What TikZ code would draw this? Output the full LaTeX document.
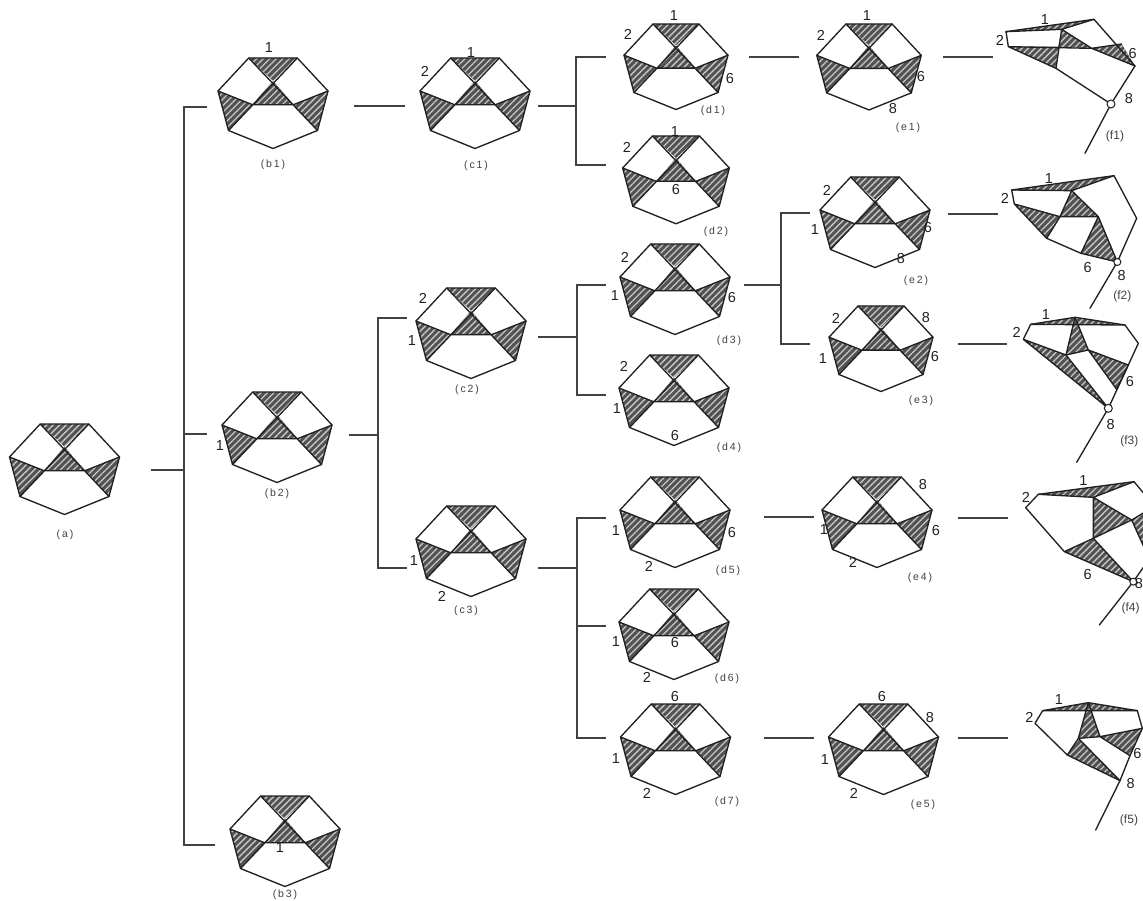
\documentclass[tikz,border=0pt]{standalone}
\usepackage{fontspec}
\setmainfont{Liberation Sans}
\newfontfamily\capfont[LetterSpace=18]{Liberation Sans}
\usetikzlibrary{patterns.meta}
\definecolor{ink}{gray}{0.13}
\tikzset{
  edgeline/.style={draw=ink,line width=1.35pt,line join=round,line cap=round},
  conn/.style={draw=ink!85,line width=1.3pt},
  hatched/.style={fill=black!68,postaction={pattern={Lines[angle=45,distance=4.6pt,line width=1.3pt]},pattern color=black!22}},
  num/.style={font=\fontsize{14.5}{15}\selectfont,text=ink,inner sep=0pt},
  captext/.style={font=\capfont\fontsize{10.5}{11}\selectfont,text=black!75,inner sep=0pt},
  captextf/.style={font=\fontsize{12}{13}\selectfont,text=black!75,inner sep=0pt},
  pinhole/.style={draw=ink,line width=1pt,fill=white},
  hepta/.pic={
    \coordinate (-T1) at (-24.3,0);
    \coordinate (-T2) at (24.3,0);
    \coordinate (-R) at (55,33);
    \coordinate (-LR) at (44.5,72.5);
    \coordinate (-B) at (0,90.5);
    \coordinate (-LL) at (-44.5,72.5);
    \coordinate (-L) at (-55,33);
    \coordinate (-C) at (0,22.7);
    \coordinate (-IL) at (-20.5,46.7);
    \coordinate (-IR) at (20.5,46.7);
    \path[hatched] (-T1) -- (-T2) -- (-C) -- cycle;
    \path[hatched] (-C) -- (-IL) -- (-IR) -- cycle;
    \path[hatched] (-L) -- (-IL) -- (-LL) -- cycle;
    \path[hatched] (-R) -- (-IR) -- (-LR) -- cycle;
    \draw[edgeline] (-T1) -- (-T2) -- (-R) -- (-LR) -- (-B) -- (-LL) -- (-L) -- cycle;
    \draw[edgeline] (-T1) -- (-LR) (-T2) -- (-LL) (-L) -- (-IL) -- (-IR) -- (-R);
  }
}
\newcommand{\lab}[4]{\node[num] (#1) at (#2,#3) {#4};}
\newcommand{\capt}[4]{\node[captext] (#1) at (#2,#3) {#4};}
\begin{document}
\begin{tikzpicture}[x=1pt,y=-1pt]
\useasboundingbox (0,0) rectangle (1143,901);
\clip (0,0) rectangle (1143,901);
% heptagons
\pic (a) at (64.5,424) {hepta};
\pic (b1) at (273,58) {hepta};
\pic (b2) at (277,392) {hepta};
\pic (b3) at (285,796) {hepta};
\pic (c1) at (475,58) {hepta};
\pic (c2) at (471,288) {hepta};
\pic (c3) at (471,506) {hepta};
\pic[scale=.945] (d1) at (676,24) {hepta};
\pic[scale=.97] (d2) at (676,136) {hepta};
\pic (d3) at (675,244) {hepta};
\pic (d4) at (674,355) {hepta};
\pic (d5) at (675,477) {hepta};
\pic (d6) at (674,589) {hepta};
\pic (d7) at (675.5,704) {hepta};
\pic[scale=.95] (e1) at (869,24) {hepta};
\pic (e2) at (875,177) {hepta};
\pic[scale=.945] (e3) at (881,306) {hepta};
\pic (e4) at (877,477) {hepta};
\pic (e5) at (883.5,704) {hepta};
% f1
\begin{scope}[shift={(980,0)},x=.3333pt,y=-.3333pt]
\coordinate (f1A) at (78,95); \coordinate (f1B) at (342,58); \coordinate (f1C) at (465,198);
\coordinate (f1D) at (393,312); \coordinate (f1L) at (85,140); \coordinate (f1P) at (245,88);
\coordinate (f1G) at (228,205); \coordinate (f1Q) at (335,145); \coordinate (f1R) at (425,132);
\coordinate (f1X) at (235,140); \coordinate (f1tail) at (315,460);
\path[hatched] (f1A) -- (f1B) -- (f1P) -- cycle;
\path[hatched] (f1P) -- (f1Q) -- (f1X) -- cycle;
\path[hatched] (f1L) -- (f1X) -- (f1G) -- cycle;
\path[hatched] (f1Q) -- (f1R) -- (f1C) -- cycle;
\draw[edgeline] (f1L) -- (f1A) -- (f1B) -- (f1C) -- (f1D) -- (f1G) -- (f1L) -- (f1Q);
\draw[edgeline] (f1A) -- (f1P) -- (f1B) (f1P) -- (f1G) (f1P) -- (f1Q) -- (f1C) (f1Q) -- (f1R) (f1D) -- (f1tail);
\node[pinhole,circle,inner sep=0pt,minimum size=8pt] (f1pin) at (f1D) {};
\lab{f1n1}{195}{60}{1} \lab{f1n2}{60}{120}{2} \lab{f1n6}{458}{160}{6} \lab{f1n8}{447}{297}{8}
\node[captextf] (f1cap) at (405,410) {(f1)};
\end{scope}
% f2
\begin{scope}[shift={(980,160)},x=.3333pt,y=-.3333pt]
\coordinate (f2A) at (95,90); \coordinate (f2B) at (402,47); \coordinate (f2C) at (470,175);
\coordinate (f2D) at (412,306); \coordinate (f2L) at (103,132); \coordinate (f2P) at (275,92);
\coordinate (f2Q) at (240,170); \coordinate (f2R) at (355,170); \coordinate (f2S) at (200,235);
\coordinate (f2T) at (303,280); \coordinate (f2tail) at (330,445);
\path[hatched] (f2A) -- (f2B) -- (f2P) -- cycle;
\path[hatched] (f2P) -- (f2Q) -- (f2R) -- cycle;
\path[hatched] (f2L) -- (f2Q) -- (f2S) -- cycle;
\path[hatched] (f2R) -- (f2T) -- (f2D) -- cycle;
\draw[edgeline] (f2L) -- (f2A) -- (f2B) -- (f2C) -- (f2D) -- (f2T) -- (f2S) -- (f2L) -- (f2Q) -- (f2S);
\draw[edgeline] (f2A) -- (f2P) -- (f2B) (f2P) -- (f2Q) -- (f2R) -- (f2P) (f2R) -- (f2T) (f2R) -- (f2D) (f2D) -- (f2tail);
\node[pinhole,circle,inner sep=0pt,minimum size=7pt] (f2pin) at (f2D) {};
\lab{f2n1}{207}{55}{1} \lab{f2n2}{75}{115}{2} \lab{f2n6}{323}{323}{6} \lab{f2n8}{425}{347}{8}
\node[captextf] (f2cap) at (427,410) {(f2)};
\end{scope}
% f3
\begin{scope}[shift={(980,300)},x=.3333pt,y=-.3333pt]
\coordinate (f3A) at (152,73); \coordinate (f3B) at (285,52); \coordinate (f3E) at (435,75);
\coordinate (f3C) at (475,130); \coordinate (f3D) at (385,325); \coordinate (f3L) at (130,118);
\coordinate (f3P) at (258,165); \coordinate (f3Q) at (325,150); \coordinate (f3R) at (445,195);
\coordinate (f3S) at (410,268); \coordinate (f3tail) at (290,487);
\path[hatched] (f3A) -- (f3B) -- (f3E) -- cycle;
\path[hatched] (f3B) -- (f3P) -- (f3Q) -- cycle;
\path[hatched] (f3L) -- (f3P) -- (f3D) -- cycle;
\path[hatched] (f3Q) -- (f3R) -- (f3S) -- cycle;
\draw[edgeline] (f3L) -- (f3A) -- (f3B) -- (f3E) -- (f3C) -- (f3D) -- (f3L) -- (f3P) -- (f3D);
\draw[edgeline] (f3A) -- (f3E) (f3B) -- (f3P) -- (f3Q) -- (f3B) (f3Q) -- (f3R) -- (f3S) -- (f3Q) (f3D) -- (f3tail);
\node[pinhole,circle,inner sep=0pt,minimum size=8pt] (f3pin) at (f3D) {};
\lab{f3n1}{198}{45}{1} \lab{f3n2}{110}{97}{2} \lab{f3n6}{450}{245}{6} \lab{f3n8}{392}{375}{8}
\node[captextf] (f3cap) at (448,423) {(f3)};
\end{scope}
% f4
\begin{scope}[shift={(980,465)},x=.3333pt,y=-.3333pt]
\coordinate (f4A) at (175,88); \coordinate (f4B) at (462,50); \coordinate (f4C) at (525,125);
\coordinate (f4D) at (460,350); \coordinate (f4L) at (137,128); \coordinate (f4S) at (253,260);
\coordinate (f4P) at (340,97); \coordinate (f4Q) at (340,220); \coordinate (f4R) at (455,165);
\coordinate (f4X) at (530,120); \coordinate (f4Y) at (525,320); \coordinate (f4tail) at (358,480);
\coordinate (f4Z) at (530,250);
\path[hatched] (f4A) -- (f4B) -- (f4P) -- cycle;
\path[hatched] (f4P) -- (f4Q) -- (f4R) -- cycle;
\path[hatched] (f4S) -- (f4Q) -- (f4D) -- cycle;
\path[hatched] (f4R) -- (f4X) -- (f4Y) -- cycle;
\draw[edgeline] (f4L) -- (f4A) -- (f4B) -- (f4C) (f4L) -- (f4S) -- (f4D) -- (f4Q) -- (f4S);
\draw[edgeline] (f4A) -- (f4P) -- (f4B) (f4P) -- (f4Q) -- (f4R) -- (f4P) (f4R) -- (f4X) (f4R) -- (f4Y) (f4D) -- (f4Z) (f4D) -- (f4tail);
\node[pinhole,circle,inner sep=0pt,minimum size=7pt] (f4pin) at (f4D) {};
\lab{f4n1}{310}{47}{1} \lab{f4n2}{138}{98}{2} \lab{f4n6}{323}{330}{6} \lab{f4n8}{477}{356}{8}
\node[captextf] (f4cap) at (452,430) {(f4)};
\end{scope}
% f5
\begin{scope}[shift={(980,690)},x=.3333pt,y=-.3333pt]
\coordinate (f5A) at (188,62); \coordinate (f5B) at (325,38); \coordinate (f5E) at (472,62);
\coordinate (f5R) at (487,115); \coordinate (f5D) at (420,272); \coordinate (f5L) at (165,100);
\coordinate (f5S) at (262,195); \coordinate (f5P) at (295,145); \coordinate (f5Q) at (360,140);
\coordinate (f5X) at (450,197); \coordinate (f5tail) at (347,420);
\path[hatched] (f5A) -- (f5B) -- (f5E) -- cycle;
\path[hatched] (f5B) -- (f5P) -- (f5Q) -- cycle;
\path[hatched] (f5P) -- (f5S) -- (f5D) -- cycle;
\path[hatched] (f5Q) -- (f5R) -- (f5X) -- cycle;
\draw[edgeline] (f5L) -- (f5A) -- (f5B) -- (f5E) -- (f5R) -- (f5X) -- (f5D) -- (f5S) -- (f5L);
\draw[edgeline] (f5A) -- (f5E) (f5B) -- (f5P) -- (f5Q) -- (f5B) (f5P) -- (f5S) (f5P) -- (f5D) (f5Q) -- (f5R) (f5Q) -- (f5X) (f5D) -- (f5tail);
\lab{f5n1}{237}{30}{1} \lab{f5n2}{148}{82}{2} \lab{f5n6}{472}{190}{6} \lab{f5n8}{452}{282}{8}
\node[captextf] (f5cap) at (447,390) {(f5)};
\end{scope}
% connector free ends
\foreach \n/\x/\y in {aout/151/470,J0/184/470,b1in/207/107,b2in/207/434,b3in/215/845,
  b1out/354/106,c1in/405/106,c1out/538/106,J1/576/106,d1in/606/57,d2in/606/165,
  d1out/749/57,e1in/799/57,e1out/943/57,f1in/993/57,
  b2out/349/435,J2/378/435,c2in/407/318,c3in/407/568,
  c2out/538/337,J3/577/337,d3in/606/285,d4in/606/395,
  d3out/744/285,J4/781/285,e2in/810/213,e3in/810/344,
  e2out/948/214,f2in/998/214,e3out/958/344,f3in/1007/344,
  c3out/538/568,J5/577/568,d5in/606/518,d6in/606/626,d7in/606/738,
  d5out/764/517,e4in/814/517,e4out/958/518,f4in/1008/518,
  d7out/764/738,e5in/814/738,e5out/958/738,f5in/1008/738}
  {\coordinate (\n) at (\x,\y);}
% connectors
\draw[conn] (aout) -- (J0) (J0) |- (b1in) (J0) |- (b2in) (J0) |- (b3in);
\draw[conn] (b1out) -- (c1in);
\draw[conn] (c1out) -- (J1) (J1) |- (d1in) (J1) |- (d2in);
\draw[conn] (d1out) -- (e1in);
\draw[conn] (e1out) -- (f1in);
\draw[conn] (b2out) -- (J2) (J2) |- (c2in) (J2) |- (c3in);
\draw[conn] (c2out) -- (J3) (J3) |- (d3in) (J3) |- (d4in);
\draw[conn] (d3out) -- (J4) (J4) |- (e2in) (J4) |- (e3in);
\draw[conn] (e2out) -- (f2in);
\draw[conn] (e3out) -- (f3in);
\draw[conn] (c3out) -- (J5) (J5) |- (d5in) (J5) |- (d6in) (J5) |- (d7in);
\draw[conn] (d5out) -- (e4in);
\draw[conn] (e4out) -- (f4in);
\draw[conn] (d7out) -- (e5in);
\draw[conn] (e5out) -- (f5in);
% labels
\capt{acap}{65}{535}{(a)}
\lab{b1n1}{269}{48}{1} \capt{b1cap}{273}{165}{(b1)}
\lab{b2n1}{220}{446}{1} \capt{b2cap}{277}{494}{(b2)}
\lab{b3n1}{280}{848}{1} \capt{b3cap}{285}{895}{(b3)}
\lab{c1n1}{471}{53}{1} \lab{c1n2}{425}{71}{2} \capt{c1cap}{476}{166}{(c1)}
\lab{c2n2}{423}{298}{2} \lab{c2n1}{412}{341}{1} \capt{c2cap}{467}{390}{(c2)}
\lab{c3n1}{414}{561}{1} \lab{c3n2}{442}{596}{2} \capt{c3cap}{466}{611}{(c3)}
\lab{d1n1}{674}{16}{1} \lab{d1n2}{628}{34}{2} \lab{d1n6}{730}{79}{6} \capt{d1cap}{713}{111}{(d1)}
\lab{d2n1}{675}{132}{1} \lab{d2n2}{627}{147}{2} \lab{d2n6}{676}{190}{6} \capt{d2cap}{716}{232}{(d2)}
\lab{d3n2}{625}{257}{2} \lab{d3n1}{615}{296}{1} \lab{d3n6}{732}{298}{6} \capt{d3cap}{729}{341}{(d3)}
\lab{d4n2}{624}{366}{2} \lab{d4n1}{617}{409}{1} \lab{d4n6}{675}{436}{6} \capt{d4cap}{729}{448}{(d4)}
\lab{d5n1}{616}{531}{1} \lab{d5n2}{649}{566}{2} \lab{d5n6}{732}{533}{6} \capt{d5cap}{728}{571}{(d5)}
\lab{d6n1}{616}{642}{1} \lab{d6n2}{647}{677}{2} \lab{d6n6}{675}{643}{6} \capt{d6cap}{727}{679}{(d6)}
\lab{d7n6}{675}{697}{6} \lab{d7n1}{616}{759}{1} \lab{d7n2}{647}{793}{2} \capt{d7cap}{727}{802}{(d7)}
\lab{e1n1}{867}{16}{1} \lab{e1n2}{821}{35}{2} \lab{e1n6}{921}{77}{6} \lab{e1n8}{893}{109}{8} \capt{e1cap}{908}{128}{(e1)}
\lab{e2n2}{827}{190}{2} \lab{e2n1}{815}{230}{1} \lab{e2n6}{928}{228}{6} \lab{e2n8}{901}{259}{8} \capt{e2cap}{916}{281}{(e2)}
\lab{e3n2}{836}{318}{2} \lab{e3n8}{926}{318}{8} \lab{e3n1}{823}{359}{1} \lab{e3n6}{935}{357}{6} \capt{e3cap}{921}{401}{(e3)}
\lab{e4n8}{923}{485}{8} \lab{e4n1}{824}{530}{1} \lab{e4n6}{936}{531}{6} \lab{e4n2}{853}{562}{2} \capt{e4cap}{920}{578}{(e4)}
\lab{e5n6}{882}{697}{6} \lab{e5n8}{930}{718}{8} \lab{e5n1}{825}{760}{1} \lab{e5n2}{854}{793}{2} \capt{e5cap}{923}{805}{(e5)}
\end{tikzpicture}
\end{document}
